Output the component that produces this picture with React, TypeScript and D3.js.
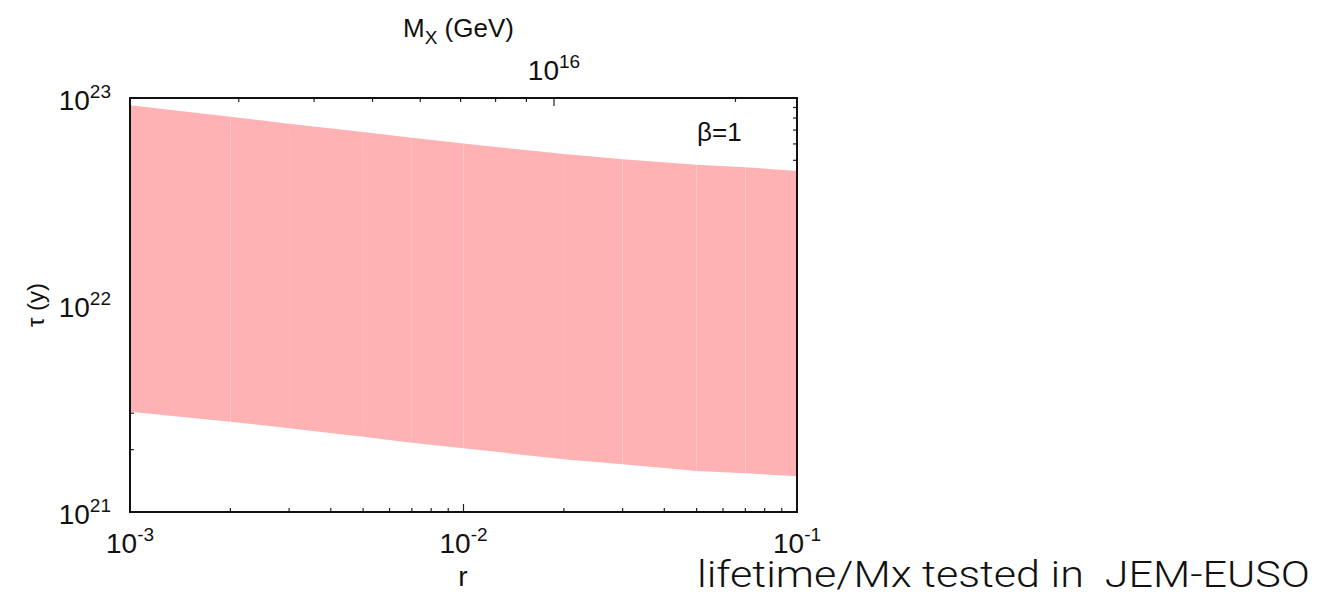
import React from "react";
import * as d3 from "d3";

const rValues = [1e-3, 2e-3, 3e-3, 5e-3, 7e-3, 1e-2, 2e-2, 3e-2, 5e-2, 7e-2, 1e-1];
const tauUpper = [9.23e22, 8.12e22, 7.51e22, 6.85e22, 6.43e22, 6.03e22, 5.36e22, 5.06e22, 4.76e22, 4.63e22, 4.44e22];
const tauLower = [3.05e21, 2.73e21, 2.54e21, 2.31e21, 2.16e21, 2.03e21, 1.8e21, 1.7e21, 1.58e21, 1.54e21, 1.49e21];

const xTickLabels = [{ v: 1e-3, e: "-3" }, { v: 1e-2, e: "-2" }, { v: 1e-1, e: "-1" }];
const yTickLabels = [{ v: 1e21, e: "21" }, { v: 1e22, e: "22" }, { v: 1e23, e: "23" }];
const topTickLabels = [{ v: 1e16, e: "16" }];
const rDomain = [1e-3, 1e-1];
const tauDomain = [1e21, 1e23];
const massDomain = [1.98e15, 2.53e16];

const W = 1330, H = 593;
const L = 130, R = 797, T = 98, B = 512;
const FONT = "Liberation Sans";
const BAND = "#feb2b4";

function logTicks(lo: number, hi: number) {
  const out: { v: number; major: boolean }[] = [];
  const d0 = Math.floor(Math.log10(lo));
  const d1 = Math.ceil(Math.log10(hi));
  for (let d = d0; d <= d1; d++) {
    for (let k = 1; k <= 9; k++) {
      const v = k * Math.pow(10, d);
      if (v >= lo * 0.9999 && v <= hi * 1.0001) out.push({ v, major: k === 1 });
    }
  }
  return out;
}

export default function App() {
  const x = d3.scaleLog().domain(rDomain).range([L, R]);
  const y = d3.scaleLog().domain(tauDomain).range([B, T]);
  const xt = d3.scaleLog().domain(massDomain).range([L, R]);

  const xTicks = logTicks(rDomain[0], rDomain[1]);
  const yTicks = logTicks(tauDomain[0], tauDomain[1]);
  const topTicks = logTicks(massDomain[0], massDomain[1]).filter((t) => xt(t.v) > L + 4 && xt(t.v) < R - 2);

  const segs = d3.range(rValues.length - 1).map((i) => {
    const pts: [number, number][] = [
      [x(rValues[i]), y(tauUpper[i])],
      [x(rValues[i + 1]), y(tauUpper[i + 1])],
      [x(rValues[i + 1]), y(tauLower[i + 1])],
      [x(rValues[i]), y(tauLower[i])],
    ];
    return "M" + pts.map((p) => p.join(",")).join("L") + "Z";
  });

  const minor = 4, major = 8;
  const tickStroke = "#222";
  const ink = "#111";

  return (
    <svg width={W} height={H} style={{ position: "absolute", left: 0, top: 0, background: "#fff" }}>
      <rect x={0} y={0} width={W} height={H} fill="#fff" />
      {/* ticks */}
      <g stroke={tickStroke} strokeWidth={1.2}>
        {xTicks.map((t, i) => (
          <line key={"xb" + i} x1={x(t.v)} x2={x(t.v)} y1={B} y2={B - (t.major ? major : minor)} />
        ))}
        {topTicks.map((t, i) => (
          <line key={"xt" + i} x1={xt(t.v)} x2={xt(t.v)} y1={T} y2={T + (t.major ? major : minor)} />
        ))}
        {yTicks.map((t, i) => (
          <line key={"yl" + i} x1={L} x2={L + (t.major ? major : minor)} y1={y(t.v)} y2={y(t.v)} />
        ))}
        {yTicks.map((t, i) => (
          <line key={"yr" + i} x1={R} x2={R - (t.major ? major : minor)} y1={y(t.v)} y2={y(t.v)} />
        ))}
      </g>
      {/* band */}
      <g fill={BAND}>
        {segs.map((d, i) => (
          <path key={i} d={d} />
        ))}
      </g>
      {/* frame */}
      <rect x={L} y={T} width={R - L} height={B - T} fill="none" stroke={ink} strokeWidth={2} />

      <g fontFamily={FONT} fill={ink}>
        {/* bottom tick labels */}
        {xTickLabels.map((t, i) => (
          <text key={"xl" + i} x={x(t.v)} y={553} fontSize={28} textAnchor="middle">
            10<tspan fontSize={19} dy={-12}>{t.e}</tspan>
          </text>
        ))}
        {/* left tick labels */}
        {yTickLabels.map((t, i) => (
          <text key={"yl" + i} x={L - 19} y={y(t.v) + 12} fontSize={28} textAnchor="end">
            10<tspan fontSize={19} dy={-12}>{t.e}</tspan>
          </text>
        ))}
        {/* top tick labels */}
        {topTickLabels.map((t, i) => (
          <text key={"tl" + i} x={xt(t.v)} y={80} fontSize={28} textAnchor="middle">
            10<tspan fontSize={19} dy={-12}>{t.e}</tspan>
          </text>
        ))}

        {/* axis titles */}
        <text x={463} y={586} fontSize={28} textAnchor="middle">r</text>
        <text transform={`translate(44,${y(1e22)}) rotate(-90)`} fontSize={24} textAnchor="middle">
          τ (y)
        </text>
        <text x={403} y={37} fontSize={26}>
          M<tspan fontSize={19} dy={7}>X</tspan>
          <tspan dy={-7}> (GeV)</tspan>
        </text>
        <text x={697} y={141} fontSize={26}>β=1</text>
      </g>

      <text x={697} y={587} fontSize={37} fill={ink} fontFamily="Roboto, 'Liberation Sans', sans-serif" fontWeight={300}
        textLength={613} lengthAdjust="spacingAndGlyphs" style={{ whiteSpace: "pre" }}>
        {"lifetime/Mx tested in  JEM-EUSO"}
      </text>
    </svg>
  );
}
